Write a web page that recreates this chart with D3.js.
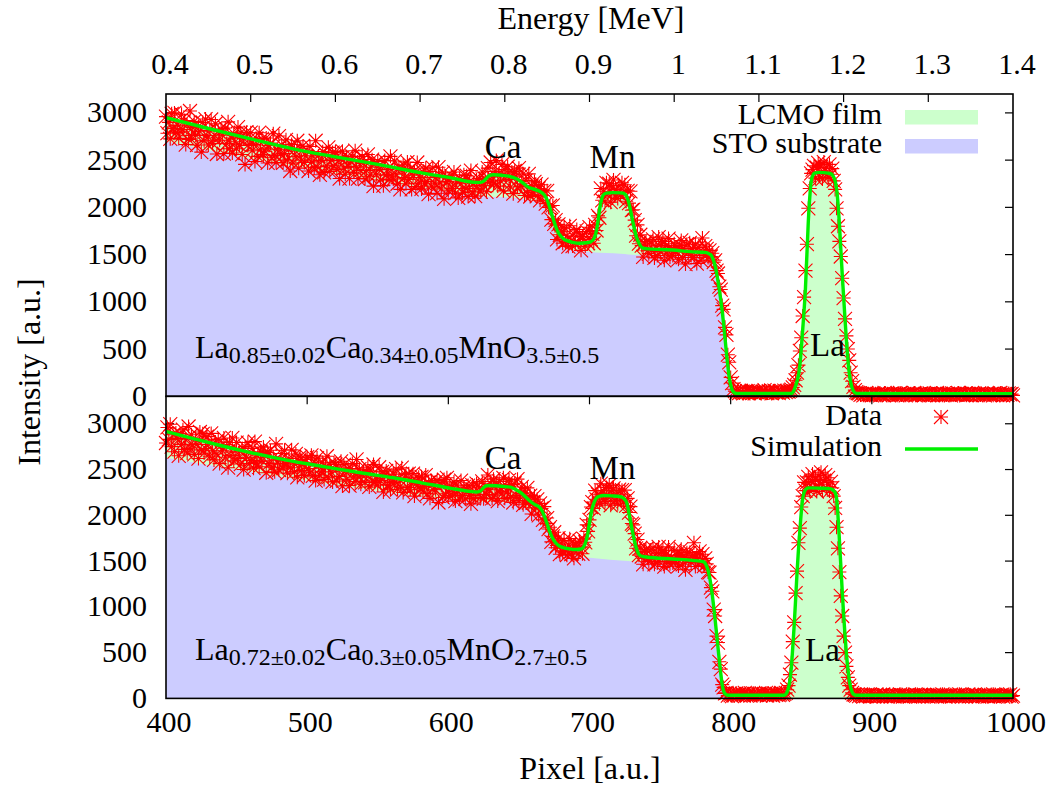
<!DOCTYPE html>
<html>
<head>
<meta charset="utf-8">
<script src="https://cdn.jsdelivr.net/npm/d3@7"></script>
<style>
  html, body { margin: 0; padding: 0; background: #fff; }
  svg { display: block; }
</style>
</head>
<body>
<svg id="chart" width="1053" height="791"></svg>
<script>
// ---------- axes ----------
const pixelTicks = [400, 500, 600, 700, 800, 900, 1000];
const energyTicks = [0.4, 0.5, 0.6, 0.7, 0.8, 0.9, 1.0, 1.1, 1.2, 1.3, 1.4];
const energyLabels = ["0.4", "0.5", "0.6", "0.7", "0.8", "0.9", "1", "1.1", "1.2", "1.3", "1.4"];
const intensityTicks = [0, 500, 1000, 1500, 2000, 2500, 3000];

// ---------- measured spectra: one value per channel, starting at channel 400 ----------
const firstChannel = 400;

const dataTop = [
  2960,2785,2900,2725,2990,2835,3000,2790,2870,2730,
  2800,2985,2825,2920,2665,2870,2720,3020,2760,2845,
  2910,2765,2660,2855,2805,2585,2900,2705,2935,2760,
  2660,2815,2930,2675,2735,2885,2565,2810,2710,2830,
  2765,2570,2840,2675,2905,2620,2735,2575,2780,2695,
  2620,2850,2660,2790,2560,2730,2455,2795,2655,2725,
  2790,2600,2665,2485,2730,2540,2790,2615,2725,2560,
  2595,2735,2470,2655,2680,2525,2780,2550,2475,2615,
  2755,2565,2660,2470,2570,2715,2500,2615,2385,2665,
  2470,2610,2535,2705,2415,2625,2500,2650,2475,2545,
  2595,2385,2645,2480,2545,2420,2705,2430,2545,2345,
  2495,2590,2370,2565,2440,2635,2380,2500,2580,2440,
  2585,2400,2495,2305,2520,2595,2415,2350,2535,2435,
  2305,2480,2540,2375,2600,2425,2305,2500,2390,2540,
  2465,2300,2390,2560,2330,2425,2505,2225,2465,2345,
  2485,2400,2290,2440,2230,2495,2340,2400,2300,2540,
  2330,
  2300,2490,2350,2250,2425,2190,2390,2450,2315,2250,
  2480,2295,2410,2190,2340,2385,2220,2475,2255,2315,
  2195,2375,2255,2415,2275,2140,2380,2225,2420,2255,
  2315,2150,2425,2260,2195,2365,2090,2315,2275,2175,
  2300,
  2335,2200,2375,2150,2270,2100,2305,2250,2155,2345,
  2200,2335,2115,2275,2390,2165,2250,2120,2290,2200,
  2305,2165,2375,2230,2300,2165,2415,2265,2475,2325,
  2255,2380,2495,2225,2360,2280,2455,2175,2400,2335,
  2430,2295,2215,2375,2145,2385,2330,2215,2415,2225,
  2250,2355,2125,2285,2155,2355,2115,2230,2160,2270,
  2245,2125,2200,2075,2240,2125,2175,2040,2175,2000,
  2015,1870,2020,1825,1865,1660,1820,1710,1740,1620,
  1790,1635,1700,1585,1805,1650,1590,1720,1625,1765,
  1630,1720,1545,1690,1660,1590,1745,1620,1790,1660,
  1720,1620,1815,1755,1910,1890,2200,2075,2170,2060,
  2260,2145,2250,2055,2205,2290,2120,2190,2095,2230,
  2135,2260,2155,2240,2065,2175,2045,2170,1970,1975,
  1865,1700,1815,1615,1710,1595,1475,1615,1640,1540,
  1510,1635,1540,1660,1465,1590,1490,1685,1530,1615,
  1640,1440,1595,1515,1670,1475,1565,1490,1615,1535,
  1570,
  1450,1595,1650,1470,1565,1400,1610,1515,1625,1490,
  1565,1470,1610,1405,1575,1535,1440,1675,1490,1590,
  1560,1470,1545,1480,1515,1420,1440,1330,1300,1160,
  1130,960,920,730,650,440,360,200,140,75,
  55,40,50,35,60,45,30,50,40,55,
  35,45,60,40,30,50,45,55,35,40,
  50,65,40,35,55,45,30,50,60,40,
  45,35,55,50,40,60,45,55,50,60,
  70,95,120,170,250,330,480,620,850,1050,
  1330,1610,1990,2200,2360,2400,2440,2310,2420,2470,
  2330,2430,2300,2480,2360,2425,2315,2455,2350,2410,
  2280,2190,1990,1800,1640,1480,1250,1040,820,640,
  500,380,250,160,100,65,45,35,30,15,
  25,10,20,35,15,25,20,10,30,20,
  15,25,30,10,20,15,35,20,25,10,20,30,15,25,20,10,25,35,15,20,
  25,10,20,30,15,20,25,35,10,20,15,25,30,20,10,25,20,15,30,20,
  10,25,20,35,15,20,25,10,30,20,15,25,20,10,30,25,15,20,35,20,
  25,15,20,30,10,25,20,15,35,20,25,10,20,30,15,25,20,10,25,30,
  15,20,25,10,30,20,15,25,35,20,10,25,20,15,30,20,25,10
];

const dataBottom = [
  2790,2960,2830,2995,2750,2880,2695,2900,2840,2650,
  2895,2775,2935,2720,2825,2680,2970,2735,2880,2770,
  2665,2835,2775,2620,2910,2715,2890,2680,2730,2860,
  2775,2640,2895,2705,2605,2800,2670,2830,2565,2760,
  2705,2845,2635,2755,2520,2795,2655,2845,2595,2700,
  2795,2620,2700,2560,2730,2500,2750,2635,2795,2565,
  2600,2730,2515,2805,2570,2650,2530,2695,2595,2745,
  2665,2465,2685,2565,2710,2525,2630,2475,2780,2570,
  2495,2605,2675,2515,2710,2560,2460,2620,2520,2715,
  2575,2475,2670,2415,2595,2640,2490,2555,2435,2610,
  2635,2510,2470,2655,2430,2580,2380,2625,2545,2440,
  2475,2580,2390,2530,2645,2415,2560,2475,2365,2575,
  2555,2375,2515,2425,2590,2320,2550,2485,2395,2510,
  2325,2510,2565,2415,2370,2610,2420,2505,2340,2445,
  2480,2360,2450,2525,2310,2485,2375,2555,2360,2395,
  2330,2525,2380,2475,2255,2435,2485,2330,2410,2280,
  2360,
  2450,2365,2505,2285,2400,2320,2520,2250,2410,2440,
  2305,2455,2280,2370,2455,2210,2375,2330,2415,2290,
  2420,2265,2315,2440,2235,2360,2185,2380,2280,2355,
  2280,2380,2140,2355,2325,2195,2390,2235,2410,2200,
  2290,
  2295,2215,2365,2155,2330,2265,2175,2380,2215,2310,
  2180,2285,2325,2215,2125,2330,2185,2255,2345,2225,
  2300,2195,2370,2180,2315,2230,2440,2280,2350,2185,
  2395,2220,2330,2155,2370,2300,2235,2410,2185,2325,
  2255,2385,2195,2335,2140,2350,2215,2395,2160,2240,
  2310,2115,2245,2135,2300,2140,2215,2015,2145,2210,
  2080,2175,2000,2130,2075,1950,2095,1910,1970,1850,
  1870,1710,1770,1815,1645,1670,1750,1575,1695,1600,
  1725,1610,1565,1675,1745,1575,1635,1530,1690,1650,
  1580,1720,1655,1580,1740,1705,1895,1825,1950,2090,
  2145,2075,2270,2175,2230,2125,2345,2180,2265,2150,
  2305,2205,2330,2110,2270,2295,2165,2230,2125,2280,
  2180,2275,2155,2275,2105,2185,2030,2095,1910,1895,
  1800,1640,1735,1565,1645,1550,1465,1605,1630,1530,
  1495,1620,1525,1645,1465,1580,1480,1655,1535,1595,
  1620,1440,1565,1495,1655,1470,1540,1480,1615,1505,
  1560,
  1445,1570,1630,1465,1540,1405,1590,1515,1595,1485,
  1545,1700,1440,1565,1470,1605,1490,1575,1445,1530,
  1470,1380,1375,1210,1170,970,900,680,610,400,
  320,150,120,55,60,30,50,35,25,50,
  40,55,35,45,30,50,40,60,35,45,
  50,30,45,55,40,35,50,45,30,55,
  40,45,60,35,50,40,45,30,55,40,
  50,35,45,60,40,50,
  60,95,140,260,390,620,830,1150,1390,1700,1860,2090,2210,2360,
  2270,2360,2420,2270,2370,2450,2300,2390,2260,2430,
  2340,2470,2280,2380,2440,2300,2410,2265,2365,2300,
  2210,2080,1870,1640,1380,1120,900,680,500,350,
  230,140,95,60,45,40,30,45,
  25,40,30,20,35,25,45,30,20,35,25,30,
  40,20,30,25,35,45,25,30,20,35,30,25,40,20,35,30,25,45,30,20,
  35,25,30,40,20,30,35,25,45,30,20,35,25,30,40,25,30,20,35,30,
  25,40,30,20,35,30,25,45,30,20,35,25,30,40,20,30,35,25,30,45,
  30,20,35,25,30,40,25,30,20,35,45,25,30,20,35,30,25,40,30,20,
  35,25,30,45,20,30,35,25,30,40,20,30,25,35,30,45,20,30
];

// ---------- simulation (total) and substrate contribution: [channel, counts] ----------
const simTop = [
  [400,2950],[430,2835],[460,2725],[490,2620],[520,2535],[550,2455],[581,2365],[602,2312],
  [620,2264],[623,2265],[625,2278],[627,2308],[629,2336],[632,2345],[638,2340],[644,2326],
  [648,2305],[652,2268],[656,2220],[660,2195],[665,2167],[668,2130],[670,2079],[672,1990],
  [674,1890],[676,1800],[678,1730],[680,1690],[682,1662],[684,1648],[688,1630],[693,1620],
  [698,1625],[701,1637],[703,1665],[704,1700],[705,1760],[706,1850],[707,1960],[708,2050],
  [709,2105],[710,2135],[712,2150],[716,2156],[722,2153],[724,2150],[725,2140],[726,2125],
  [727,2090],[728,2040],[730,1900],[732,1760],[733,1700],[734,1655],[736,1595],[738,1567],
  [742,1560],[759,1549],[771,1531],[783,1521],[785,1505],[786,1496],[787,1470],[789,1380],
  [791,1220],[793,1020],[795,770],[797,460],[798,320],[799,200],[800,120],[801,70],
  [802,45],[804,30],[843,30],[845,70],[847,160],[848,220],[849,330],[851,700],
  [853,1150],[855,1850],[856,2100],[857,2270],[858,2330],[859,2360],[863,2370],[869,2362],
  [871,2355],[872,2345],[873,2320],[874,2280],[875,2200],[876,2050],[877,1830],[879,1300],
  [881,820],[883,400],[884,250],[885,150],[886,90],[887,55],[889,30],[1000,28]
];

const stoTop = [
  [400,2700],[450,2545],[506,2392],[561,2250],[602,2165],[625,2117],[652,2095],[656,2085],
  [660,2070],[665,2050],[668,2010],[670,1960],[672,1870],[674,1770],[676,1690],[678,1630],
  [680,1595],[682,1570],[686,1550],[693,1540],[702,1525],[722,1510],[733,1497],[742,1500],
  [759,1495],[771,1487],[783,1478],[786,1460],[787,1445],[789,1360],[791,1205],[793,1005],
  [795,755],[797,450],[798,310],[799,190],[800,110],[801,55],[802,20],[803,0]
];

const simBottom = [
  [400,2915],[420,2835],[440,2757],[460,2685],[480,2620],[500,2563],[520,2510],[540,2460],
  [561,2410],[581,2355],[602,2295],[616,2260],[620,2255],[622,2260],[623,2270],[624,2285],
  [625,2302],[626,2316],[627,2323],[629,2326],[634,2323],[642,2311],[644,2307],[646,2295],
  [648,2280],[650,2262],[652,2240],[654,2212],[656,2182],[658,2154],[660,2130],[662,2112],
  [664,2095],[665,2081],[666,2060],[668,1990],[670,1905],[672,1815],[674,1745],[676,1700],
  [678,1672],[680,1655],[682,1645],[685,1635],[688,1627],[691,1626],[694,1632],[695,1640],
  [696,1660],[697,1695],[698,1745],[699,1820],[700,1920],[701,2010],[702,2080],[703,2130],
  [704,2165],[705,2190],[707,2208],[710,2216],[716,2212],[722,2203],[723,2198],[724,2188],
  [725,2172],[726,2150],[727,2100],[728,2020],[730,1860],[732,1710],[733,1650],[734,1605],
  [735,1575],[736,1560],[738,1550],[740,1545],[759,1523],[773,1508],[781,1492],[782,1475],
  [783,1442],[784,1400],[785,1330],[786,1240],[787,1130],[788,1000],[789,860],[790,710],
  [791,560],[792,410],[793,270],[794,150],[795,80],[796,50],[798,35],[838,35],
  [839,45],[840,70],[841,120],[842,201],[843,340],[844,560],[845,800],[846,1080],
  [847,1370],[848,1620],[849,1830],[850,2030],[851,2180],[852,2250],[853,2280],[855,2300],
  [863,2296],[871,2289],[872,2282],[873,2268],[874,2250],[875,2190],[876,2000],[877,1740],
  [878,1460],[879,1180],[880,920],[881,690],[882,490],[883,330],[884,205],[885,120],
  [886,70],[887,45],[889,35],[1000,35]
];

const stoBottom = [
  [400,2630],[450,2500],[506,2360],[561,2240],[616,2154],[642,2140],[651,2130],[654,2105],
  [658,2060],[662,2030],[665,2005],[666,1985],[668,1915],[670,1830],[672,1745],[674,1675],
  [676,1630],[678,1600],[682,1575],[688,1560],[694,1548],[702,1534],[727,1500],[735,1490],
  [740,1492],[759,1480],[773,1470],[781,1460],[782,1445],[783,1415],[784,1375],[785,1310],
  [786,1220],[787,1110],[788,985],[789,845],[790,695],[791,545],[792,395],[793,255],
  [794,135],[795,60],[796,20],[797,0]
];

// ---------- annotations: [text, channel, counts] ----------
const peaksTop = [["Ca", 638.7, 2519], ["Mn", 716.3, 2413], ["La", 868.6, 426]];
const peaksBottom = [["Ca", 638.7, 2506], ["Mn", 716.3, 2397], ["La", 865.0, 409]];

// composition: [text, isSubscript]
const formulaTop = [["La", false], ["0.85\u00b10.02", true], ["Ca", false], ["0.34\u00b10.05", true],
                    ["MnO", false], ["3.5\u00b10.5", true]];
const formulaBottom = [["La", false], ["0.72\u00b10.02", true], ["Ca", false], ["0.3\u00b10.05", true],
                       ["MnO", false], ["2.7\u00b10.5", true]];
const formulaAnchor = [420.5, 407];       // channel, counts (top panel)
const formulaAnchorBottom = [420.5, 419]; // channel, counts (bottom panel)

// ---------- styling ----------
const FILM_COLOR = "rgb(204,255,204)";
const SUBSTRATE_COLOR = "rgb(204,204,255)";
const SIM_COLOR = "#00f000";
const DATA_COLOR = "#ff0000";
const FONT = 30;        // tick numbers, legend
const TITLE_FONT = 32;  // axis titles
const FAMILY = "Liberation Serif, Times New Roman, serif";

const svg = d3.select("#chart");

const left = 166, right = 1013;
const x = d3.scaleLinear().domain([400, 1000]).range([left, right]);
const xEnergy = d3.scaleLinear().domain([0.4, 1.4]).range([left, right]);

const panels = [
  { top: 94.0, bottom: 396.3, ymax: 3200, data: dataTop, sim: simTop, sto: stoTop,
    peaks: peaksTop, formula: formulaTop, fAnchor: formulaAnchor },
  { top: 396.3, bottom: 698.4, ymax: 3300, data: dataBottom, sim: simBottom, sto: stoBottom,
    peaks: peaksBottom, formula: formulaBottom, fAnchor: formulaAnchorBottom }
];

function asterisk(px, py, s) {
  return `M${px - s},${py}H${px + s}M${px},${py - s}V${py + s}` +
         `M${px - s},${py - s}L${px + s},${py + s}M${px - s},${py + s}L${px + s},${py - s}`;
}

function label(sel) {
  return sel.append("text").style("font-family", FAMILY).attr("fill", "#000");
}

const TICK = 8;

panels.forEach((p, pi) => {
  const y = d3.scaleLinear().domain([0, p.ymax]).range([p.bottom, p.top]);
  const g = svg.append("g");

  // ticks hidden behind the filled areas (left y, bottom x)
  const under = g.append("g").attr("stroke", "#000").attr("stroke-width", 1.2);
  intensityTicks.filter(v => v > 0).forEach(v => {
    under.append("line").attr("x1", left).attr("x2", left + TICK).attr("y1", y(v)).attr("y2", y(v));
  });
  pixelTicks.slice(1, -1).forEach(v => {
    under.append("line").attr("x1", x(v)).attr("x2", x(v)).attr("y1", p.bottom).attr("y2", p.bottom - TICK);
  });

  // film contribution is the whole simulation; the substrate is laid over it
  const area = d3.area().x(d => x(d[0])).y0(y(0)).y1(d => y(d[1])).curve(d3.curveMonotoneX);
  g.append("path").datum(p.sim).attr("d", area).attr("fill", FILM_COLOR);
  g.append("path").datum(p.sto).attr("d", area).attr("fill", SUBSTRATE_COLOR);

  // measured points
  const pts = p.data.map((v, i) => asterisk(x(firstChannel + i), y(v), 7)).join("");
  g.append("path").attr("d", pts).attr("fill", "none")
    .attr("stroke", DATA_COLOR).attr("stroke-width", 1.1);

  // simulation curve
  const line = d3.line().x(d => x(d[0])).y(d => y(d[1])).curve(d3.curveMonotoneX);
  g.append("path").datum(p.sim).attr("d", line).attr("fill", "none")
    .attr("stroke", SIM_COLOR).attr("stroke-width", 3.4).attr("stroke-linejoin", "round");

  // ticks on top
  const over = g.append("g").attr("stroke", "#000").attr("stroke-width", 1.2);
  intensityTicks.filter(v => v > 0).forEach(v => {
    over.append("line").attr("x1", right).attr("x2", right - TICK).attr("y1", y(v)).attr("y2", y(v));
  });
  if (pi === 0) {
    energyTicks.slice(1, -1).forEach(e => {
      over.append("line").attr("x1", xEnergy(e)).attr("x2", xEnergy(e)).attr("y1", p.top).attr("y2", p.top + TICK);
    });
  } else {
    pixelTicks.slice(1, -1).forEach(v => {
      over.append("line").attr("x1", x(v)).attr("x2", x(v)).attr("y1", p.top).attr("y2", p.top + TICK);
    });
  }

  // frame
  g.append("rect").attr("x", left).attr("y", p.top).attr("width", right - left)
    .attr("height", p.bottom - p.top).attr("fill", "none").attr("stroke", "#000").attr("stroke-width", 1.6);

  // y tick labels
  intensityTicks.forEach(v => {
    label(g).attr("x", 147).attr("y", y(v) + 9.5).attr("text-anchor", "end")
      .attr("font-size", FONT).text(v);
  });

  // element labels
  p.peaks.forEach(([t, ch, v]) => {
    label(g).attr("x", x(ch)).attr("y", y(v)).attr("text-anchor", "middle")
      .attr("font-size", 33).text(t);
  });

  // composition
  const ft = label(g).attr("x", x(p.fAnchor[0])).attr("y", y(p.fAnchor[1])).attr("font-size", 32);
  let shifted = false;
  p.formula.forEach(([t, sub]) => {
    const ts = ft.append("tspan").text(t);
    if (sub && !shifted) { ts.attr("dy", 5).attr("font-size", 24); shifted = true; }
    else if (sub) { ts.attr("font-size", 24); }
    else if (shifted) { ts.attr("dy", -5); shifted = false; }
  });
});

// top energy axis labels
energyTicks.forEach((e, i) => {
  label(svg).attr("x", xEnergy(e) + 4).attr("y", 74).attr("text-anchor", "middle")
    .attr("font-size", FONT).text(energyLabels[i]);
});
label(svg).attr("x", 591).attr("y", 29).attr("text-anchor", "middle")
  .attr("font-size", TITLE_FONT).text("Energy [MeV]");

// bottom pixel axis labels
pixelTicks.forEach(v => {
  label(svg).attr("x", x(v) + 3).attr("y", 732).attr("text-anchor", "middle")
    .attr("font-size", FONT).text(v);
});
label(svg).attr("x", 590).attr("y", 779).attr("text-anchor", "middle")
  .attr("font-size", TITLE_FONT).text("Pixel [a.u.]");

// vertical axis title
label(svg).attr("transform", "translate(40,372) rotate(-90)").attr("text-anchor", "middle")
  .attr("font-size", TITLE_FONT).text("Intensity [a.u.]");

// legends
const lg1 = svg.append("g");
label(lg1).attr("x", 882).attr("y", 124).attr("text-anchor", "end").attr("font-size", FONT).text("LCMO film");
lg1.append("rect").attr("x", 905).attr("y", 110).attr("width", 73).attr("height", 14.5).attr("fill", FILM_COLOR);
label(lg1).attr("x", 882).attr("y", 153).attr("text-anchor", "end").attr("font-size", FONT).text("STO substrate");
lg1.append("rect").attr("x", 905).attr("y", 139).attr("width", 73).attr("height", 14.5).attr("fill", SUBSTRATE_COLOR);

const lg2 = svg.append("g");
label(lg2).attr("x", 882).attr("y", 425).attr("text-anchor", "end").attr("font-size", FONT).text("Data");
lg2.append("path").attr("d", asterisk(941, 417, 7)).attr("stroke", DATA_COLOR).attr("stroke-width", 1.1).attr("fill", "none");
label(lg2).attr("x", 882).attr("y", 456).attr("text-anchor", "end").attr("font-size", FONT).text("Simulation");
lg2.append("line").attr("x1", 905).attr("x2", 978).attr("y1", 449).attr("y2", 449)
  .attr("stroke", SIM_COLOR).attr("stroke-width", 3.4);
</script>
</body>
</html>
